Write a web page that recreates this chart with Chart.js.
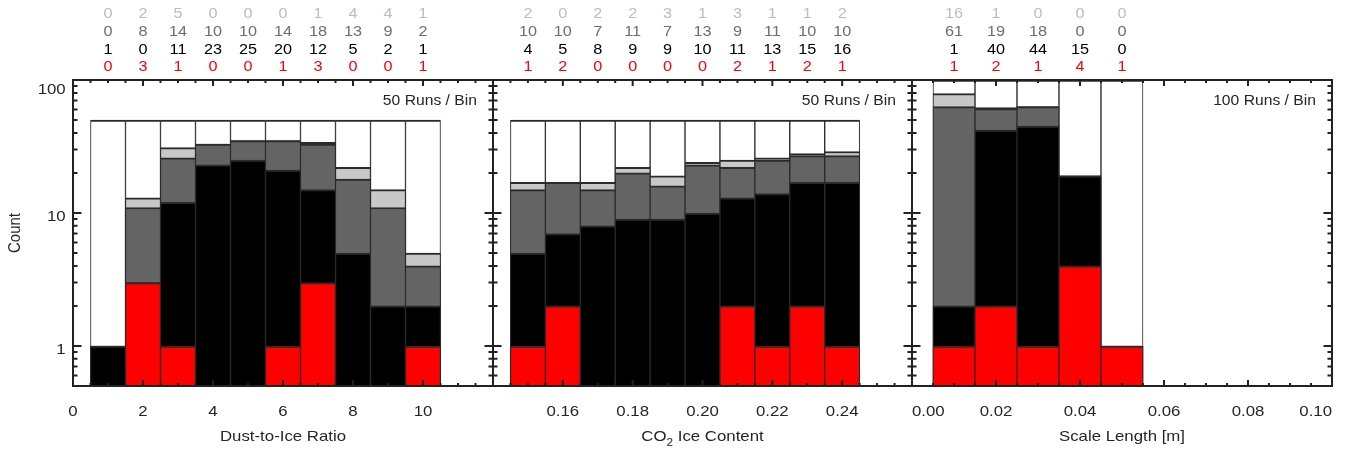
<!DOCTYPE html>
<html>
<head>
<meta charset="utf-8">
<script src="https://cdn.jsdelivr.net/npm/chart.js@4.4.1/dist/chart.umd.min.js"></script>
<style>
html,body{margin:0;padding:0;background:#fff;}
#wrap{position:relative;width:1347px;height:449px;background:#fff;overflow:hidden;}
#wrap canvas{position:absolute;left:0;top:0;}
</style>
</head>
<body>
<div id="wrap">
<canvas id="c1" width="1347" height="449"></canvas>
<canvas id="c2" width="1347" height="449"></canvas>
<canvas id="c3" width="1347" height="449"></canvas>
</div>
<script>
// ---------------- DATA ----------------
// Panel 1: Dust-to-Ice Ratio
const dustBins  = [1, 2, 3, 4, 5, 6, 7, 8, 9, 10];
const dustLight = [0, 2, 5, 0, 0, 0, 1, 4, 4, 1];
const dustDark  = [0, 8, 14, 10, 10, 14, 18, 13, 9, 2];
const dustBlack = [1, 0, 11, 23, 25, 20, 12, 5, 2, 1];
const dustRed   = [0, 3, 1, 0, 0, 1, 3, 0, 0, 1];
const dustRunsPerBin = 50;
const dustTickValues = [0, 2, 4, 6, 8, 10];
const dustTickLabels = ['0', '2', '4', '6', '8', '10'];

// Panel 2: CO2 Ice Content
const co2Bins  = [0.15, 0.16, 0.17, 0.18, 0.19, 0.20, 0.21, 0.22, 0.23, 0.24];
const co2Light = [2, 0, 2, 2, 3, 1, 3, 1, 1, 2];
const co2Dark  = [10, 10, 7, 11, 7, 13, 9, 11, 10, 10];
const co2Black = [4, 5, 8, 9, 9, 10, 11, 13, 15, 16];
const co2Red   = [1, 2, 0, 0, 0, 0, 2, 1, 2, 1];
const co2RunsPerBin = 50;
const co2TickValues = [0.16, 0.18, 0.20, 0.22, 0.24];
const co2TickLabels = ['0.16', '0.18', '0.20', '0.22', '0.24'];

// Panel 3: Scale Length
const scaleBins  = [0.01, 0.02, 0.03, 0.04, 0.05];
const scaleLight = [16, 1, 0, 0, 0];
const scaleDark  = [61, 19, 18, 0, 0];
const scaleBlack = [1, 40, 44, 15, 0];
const scaleRed   = [1, 2, 1, 4, 1];
const scaleRunsPerBin = 100;
const scaleTickValues = [0, 0.02, 0.04, 0.06, 0.08, 0.10];
const scaleTickLabels = ['0.00', '0.02', '0.04', '0.06', '0.08', '0.10'];

// Y axis (Count)
const countTickValues = [1, 10, 100];
const countTickLabels = ['1', '10', '100'];
const countMinorValues = [0.5, 0.6, 0.7, 0.8, 0.9, 2, 3, 4, 5, 6, 7, 8, 9, 20, 30, 40, 50, 60, 70, 80, 90];

const dustTitle  = ['Dust-to-Ice Ratio'];
const co2Title   = ['CO', '2', ' Ice Content'];
const scaleTitle = ['Scale Length [m]'];
const yTitle = 'Count';

// ---------------- STYLE / LAYOUT ----------------
const FONT = '"Liberation Sans", Arial, Helvetica, sans-serif';
const STRETCH = 1.12;
const AXIS_COLOR = '#222222';
const TEXT_COLOR = '#262626';
const COL_RED = '#ff0000', COL_BLACK = '#000000', COL_DARK = '#646464', COL_LIGHT = '#c8c8c8', COL_WHITE = '#ffffff';
const ROW_COLORS = ['#bdbdbd', '#6e6e6e', '#000000', '#ff0000'];
const ROW_BASELINES = [18.3, 36, 54, 71.3];
const PLOT_TOP = 80, PLOT_BOTTOM = 386, W = 1347, H = 449;

const panels = [
  {id: 'c1', left: 73, right: 493, xMin: 0, xMax: 12, minorStep: 0.5, majorEvery: 4,
   bins: dustBins, light: dustLight, dark: dustDark, black: dustBlack, red: dustRed, runs: dustRunsPerBin,
   tickValues: dustTickValues, tickLabels: dustTickLabels, title: dustTitle, yLabels: true, clampX: false},
  {id: 'c2', left: 493, right: 912, xMin: 0.14, xMax: 0.26, minorStep: 0.005, majorEvery: 4,
   bins: co2Bins, light: co2Light, dark: co2Dark, black: co2Black, red: co2Red, runs: co2RunsPerBin,
   tickValues: co2TickValues, tickLabels: co2TickLabels, title: co2Title, yLabels: false, clampX: false},
  {id: 'c3', left: 912, right: 1332, xMin: 0, xMax: 0.10, minorStep: 0.005, majorEvery: 4,
   bins: scaleBins, light: scaleLight, dark: scaleDark, black: scaleBlack, red: scaleRed, runs: scaleRunsPerBin,
   tickValues: scaleTickValues, tickLabels: scaleTickLabels, title: scaleTitle, yLabels: false, clampX: true}
];

function drawText(ctx, txt, x, y, font, color, align, rotate) {
  ctx.save();
  ctx.font = font;
  ctx.fillStyle = color;
  ctx.textAlign = align || 'center';
  ctx.textBaseline = 'alphabetic';
  ctx.translate(x, y);
  if (rotate) { ctx.rotate(rotate); ctx.scale(1, STRETCH); }
  else ctx.scale(STRETCH, 1);
  ctx.fillText(txt, 0, 0);
  ctx.restore();
}

function makeDecor(p) {
  return {
    id: 'decor_' + p.id,
    afterDatasetsDraw(chart) {
      const ctx = chart.ctx;
      const {left, right, top, bottom} = chart.chartArea;
      const xs = chart.scales.x, ys = chart.scales.y;
      ctx.save();
      ctx.strokeStyle = AXIS_COLOR;
      ctx.lineWidth = 2;
      ctx.lineCap = 'butt';
      // x ticks (inward, bottom & top)
      for (let i = 0; ; i++) {
        const v = p.xMin + i * p.minorStep;
        if (v > p.xMax + 1e-9) break;
        const px = xs.getPixelForValue(v);
        const len = (i % p.majorEvery === 0) ? 6 : 3;
        ctx.beginPath();
        ctx.moveTo(px, bottom); ctx.lineTo(px, bottom - len);
        ctx.moveTo(px, top); ctx.lineTo(px, top + len);
        ctx.stroke();
      }
      // y ticks (inward, left & right)
      const yvals = countTickValues.map(v => [v, true]).concat(countMinorValues.map(v => [v, false]));
      yvals.forEach(([v, major]) => {
        const py = ys.getPixelForValue(v);
        const len = major ? 8.5 : 4.5;
        ctx.beginPath();
        ctx.moveTo(left, py); ctx.lineTo(left + len, py);
        ctx.moveTo(right, py); ctx.lineTo(right - len, py);
        ctx.stroke();
      });
      // frame
      ctx.strokeRect(left, top, right - left, bottom - top);
      ctx.restore();

      // x tick labels
      const tickFont = '15px ' + FONT;
      ctx.save(); ctx.font = tickFont;
      p.tickValues.forEach((v, i) => {
        let px = xs.getPixelForValue(v);
        const lab = p.tickLabels[i];
        if (p.clampX) {
          const hw = ctx.measureText(lab).width * STRETCH / 2;
          px = Math.min(Math.max(px, left + hw), right - hw);
        }
        drawText(ctx, lab, px, 416, tickFont, TEXT_COLOR, 'center');
      });
      ctx.restore();

      // y tick labels + y title
      if (p.yLabels) {
        countTickValues.forEach((v, i) => {
          const py = ys.getPixelForValue(v);
          const base = Math.max(py + 8.3, top + 14.3);
          drawText(ctx, countTickLabels[i], 65.7, base, tickFont, TEXT_COLOR, 'right');
        });
        drawText(ctx, yTitle, 20.3, (top + bottom) / 2, tickFont, TEXT_COLOR, 'center', -Math.PI / 2);
      }

      // x title
      const cx = (left + right) / 2;
      if (p.title.length === 1) {
        drawText(ctx, p.title[0], cx, 441, tickFont, TEXT_COLOR, 'center');
      } else {
        const subFont = '10.5px ' + FONT;
        ctx.save();
        ctx.font = tickFont; const w1 = ctx.measureText(p.title[0]).width * STRETCH;
        const w3 = ctx.measureText(p.title[2]).width * STRETCH;
        ctx.font = subFont; const w2 = ctx.measureText(p.title[1]).width * STRETCH;
        ctx.restore();
        const x0 = cx - (w1 + w2 + w3) / 2;
        drawText(ctx, p.title[0], x0, 441, tickFont, TEXT_COLOR, 'left');
        drawText(ctx, p.title[1], x0 + w1, 446, subFont, TEXT_COLOR, 'left');
        drawText(ctx, p.title[2], x0 + w1 + w2, 441, tickFont, TEXT_COLOR, 'left');
      }

      // runs per bin
      drawText(ctx, p.runs + ' Runs / Bin', right - 16, 104.5, '14px ' + FONT, TEXT_COLOR, 'right');

      // count rows above the panel
      const rows = [p.light, p.dark, p.black, p.red];
      const rowFont = '14.5px ' + FONT;
      rows.forEach((arr, r) => {
        arr.forEach((val, i) => {
          const px = xs.getPixelForValue(p.bins[i]);
          drawText(ctx, String(val), px, ROW_BASELINES[r], rowFont, ROW_COLORS[r], 'center');
        });
      });
    }
  };
}

function points(bins, vals) {
  return bins.map((b, i) => ({x: b, y: vals[i] > 0 ? vals[i] : null}));
}

panels.forEach(p => {
  const cumRed = p.red.slice();
  const cumBlack = p.black.map((v, i) => v + cumRed[i]);
  const cumDark = p.dark.map((v, i) => v + cumBlack[i]);
  const cumLight = p.light.map((v, i) => v + cumDark[i]);
  const totals = p.bins.map(() => p.runs);
  new Chart(document.getElementById(p.id), {
    type: 'bar',
    data: {
      datasets: [
        {label: 'red', data: points(p.bins, cumRed), backgroundColor: COL_RED},
        {label: 'black', data: points(p.bins, cumBlack), backgroundColor: COL_BLACK},
        {label: 'dark', data: points(p.bins, cumDark), backgroundColor: COL_DARK},
        {label: 'light', data: points(p.bins, cumLight), backgroundColor: COL_LIGHT},
        {label: 'all', data: points(p.bins, totals), backgroundColor: COL_WHITE}
      ]
    },
    options: {
      responsive: false,
      animation: false,
      devicePixelRatio: 1,
      layout: {padding: {left: p.left, right: W - p.right, top: PLOT_TOP, bottom: H - PLOT_BOTTOM}},
      datasets: {bar: {grouped: false, barPercentage: 1, categoryPercentage: 1,
        borderWidth: {top: 2, left: 1, right: 1, bottom: 0}, borderColor: '#2b2b2b', borderSkipped: false}},
      scales: {
        x: {type: 'linear', min: p.xMin, max: p.xMax, offset: false, display: false},
        y: {type: 'logarithmic', min: 0.5, max: 100, beginAtZero: false, display: false}
      },
      plugins: {legend: {display: false}, tooltip: {enabled: false}}
    },
    plugins: [makeDecor(p)]
  });
});
</script>
</body>
</html>
